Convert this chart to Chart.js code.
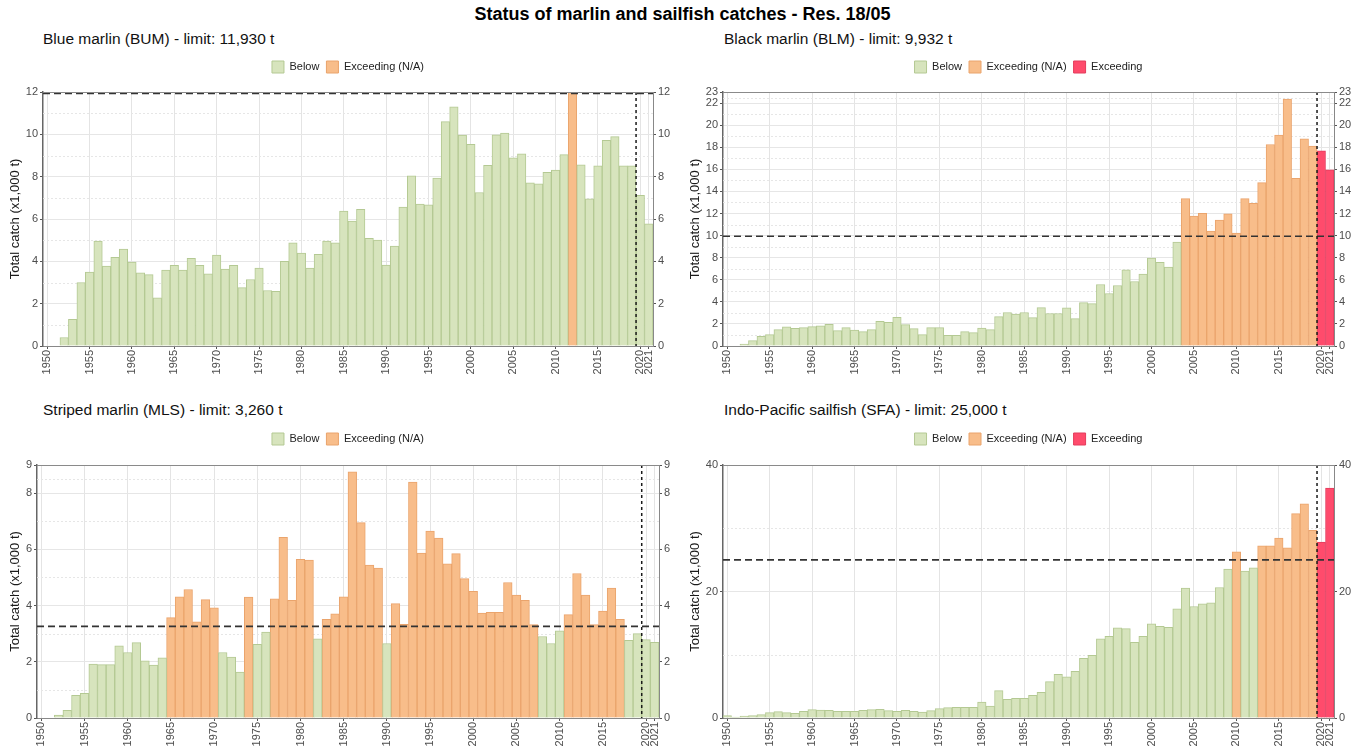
<!DOCTYPE html>
<html><head><meta charset="utf-8">
<script src="https://cdn.jsdelivr.net/npm/chart.js@4.4.0/dist/chart.umd.min.js"></script>
<style>
body{margin:0;width:1365px;height:751px;background:#fff;position:relative;overflow:hidden;font-family:"Liberation Sans",Arial,sans-serif;}
#title{position:absolute;left:0;top:4px;width:1365px;text-align:center;font-weight:bold;font-size:18px;color:#000;}
.sub{position:absolute;font-size:15.5px;color:#111;white-space:nowrap;}
canvas{position:absolute;}
</style></head><body>
<div id="title">Status of marlin and sailfish catches - Res. 18/05</div>
<div class="sub" style="left:43px;top:30px">Blue marlin (BUM) - limit: 11,930 t</div>
<div class="sub" style="left:724px;top:30px">Black marlin (BLM) - limit: 9,932 t</div>
<div class="sub" style="left:43px;top:401px">Striped marlin (MLS) - limit: 3,260 t</div>
<div class="sub" style="left:724px;top:401px">Indo-Pacific sailfish (SFA) - limit: 25,000 t</div>
<canvas id="c1" width="690" height="324" style="left:0;top:54px"></canvas>
<canvas id="c2" width="685" height="324" style="left:680px;top:54px"></canvas>
<canvas id="c3" width="690" height="325" style="left:0;top:426px"></canvas>
<canvas id="c4" width="685" height="325" style="left:680px;top:426px"></canvas>
<script>
const years = [1950,1951,1952,1953,1954,1955,1956,1957,1958,1959,
1960,1961,1962,1963,1964,1965,1966,1967,1968,1969,
1970,1971,1972,1973,1974,1975,1976,1977,1978,1979,
1980,1981,1982,1983,1984,1985,1986,1987,1988,1989,
1990,1991,1992,1993,1994,1995,1996,1997,1998,1999,
2000,2001,2002,2003,2004,2005,2006,2007,2008,2009,
2010,2011,2012,2013,2014,2015,2016,2017,2018,2019,
2020,2021];

const bumCatch = [null,null,0.40,1.26,3.00,3.49,4.96,3.78,4.19,4.58,
3.97,3.46,3.37,2.27,3.59,3.81,3.59,4.14,3.81,3.41,
4.30,3.63,3.81,2.76,3.14,3.68,2.62,2.58,4.00,4.87,
4.39,3.68,4.33,4.96,4.87,6.38,5.90,6.46,5.09,5.00,
3.82,4.72,6.56,8.04,6.71,6.67,7.93,10.60,11.30,9.97,
9.53,7.25,8.53,9.98,10.06,8.89,9.08,7.71,7.66,8.21,
8.31,9.04,12.00,8.56,6.95,8.51,9.72,9.89,8.51,8.51,
7.12,5.77];

const blmCatch = [null,null,0.18,0.48,0.88,1.03,1.48,1.73,1.60,1.66,
1.76,1.82,1.97,1.39,1.66,1.45,1.30,1.48,2.24,2.15,
2.60,1.94,1.57,1.03,1.66,1.66,0.97,0.97,1.30,1.21,
1.63,1.48,2.66,3.03,2.88,3.03,2.57,3.48,2.94,2.94,
3.45,2.48,3.93,3.84,5.57,4.75,5.48,6.90,5.84,6.51,
7.96,7.57,7.14,9.41,13.35,11.77,12.02,10.41,11.41,11.96,
10.23,13.35,12.92,14.80,18.25,19.10,22.37,15.19,18.77,18.10,
17.68,15.95];

const mlsCatch = [null,null,0.10,0.27,0.81,0.88,1.92,1.90,1.90,2.57,
2.33,2.68,2.03,1.88,2.14,3.57,4.31,4.57,3.42,4.21,
3.92,2.33,2.17,1.63,4.30,2.62,3.06,4.24,6.43,4.19,
5.64,5.62,2.82,3.51,3.71,4.31,8.76,6.95,5.44,5.33,
2.65,4.07,3.33,8.39,5.87,6.65,6.40,5.48,5.85,4.96,
4.51,3.73,3.76,3.76,4.82,4.37,4.19,3.32,2.90,2.65,
3.10,3.68,5.14,4.37,3.32,3.80,4.62,3.51,2.76,3.00,
2.79,2.69];

const sfaCatch = [0.37,0.16,0.32,0.37,0.53,0.84,1.00,0.84,0.74,1.06,
1.32,1.27,1.21,1.06,1.06,1.06,1.21,1.32,1.37,1.16,
1.06,1.21,1.06,0.95,1.16,1.48,1.64,1.69,1.69,1.69,
2.53,1.90,4.33,2.96,3.11,3.11,3.59,4.06,5.75,6.91,
6.49,7.39,9.45,9.92,12.50,12.93,14.25,14.14,11.98,12.93,
14.88,14.51,14.35,17.26,20.53,17.63,18.05,18.21,20.63,23.54,
26.28,23.22,23.75,27.23,27.23,28.44,26.91,32.30,33.88,29.66,
27.81,36.36];

const bumLimit = 11.93, blmLimit = 9.932, mlsLimit = 3.26, sfaLimit = 25;

const bumTicks = [0,2,4,6,8,10,12];
const bumMinor = [1,3,5,7,9,11];
const blmTicks = [0,2,4,6,8,10,12,14,16,18,20,22,23];
const blmMinor = [1,3,5,7,9,11,13,15,17,19,21,22.5];
const mlsTicks = [0,2,4,6,8,9];
const mlsMinor = [1,3,5,7,8.5];
const sfaTicks = [0,20,40];
const sfaMinor = [10,30];

const labelledYears = [1950,1955,1960,1965,1970,1975,1980,1985,1990,1995,2000,2005,2010,2015,2020,2021];
const firstEvaluatedYear = 2020;

const FAM = '"Liberation Sans", Arial, sans-serif';
Chart.defaults.font.family = FAM;
Chart.defaults.animation = false;

const STATUS = [
  {key:'below', label:'Below', fill:'#d7e4bd', border:'#b4c993'},
  {key:'na', label:'Exceeding (N/A)', fill:'#f8bd8a', border:'#eaa46c'},
  {key:'ex', label:'Exceeding', fill:'#ff4b6c', border:'#e33d5d'}
];

const legendSpacer = {
  id:'legendSpacer',
  beforeInit(chart, args, opts) {
    const orig = chart.legend.fit;
    chart.legend.fit = function(){ orig.call(this); this.height += opts.extra; };
  }
};

const decor = {
  id:'decor',
  beforeDatasetsDraw(chart, args, o) {
    const {ctx, chartArea:a} = chart; const y = chart.scales.y;
    ctx.save(); ctx.strokeStyle = '#e6e6e6'; ctx.lineWidth = 1; ctx.setLineDash([2,2]);
    o.minor.forEach(v => {
      const py = Math.round(y.getPixelForValue(v)) + 0.5;
      ctx.beginPath(); ctx.moveTo(a.left, py); ctx.lineTo(a.right, py); ctx.stroke();
    });
    ctx.restore();
  },
  afterDatasetsDraw(chart, args, o) {
    const {ctx, chartArea:a} = chart; const y = chart.scales.y, x = chart.scales.x;
    ctx.save();
    const py = y.getPixelForValue(o.limit);
    ctx.strokeStyle = '#333'; ctx.lineWidth = 1.6; ctx.setLineDash([7,4]);
    ctx.beginPath(); ctx.moveTo(a.left, py); ctx.lineTo(a.right, py); ctx.stroke();
    const i = years.indexOf(firstEvaluatedYear);
    const px = (x.getPixelForValue(i - 1) + x.getPixelForValue(i)) / 2;
    ctx.strokeStyle = '#1a1a1a'; ctx.lineWidth = 1.5; ctx.setLineDash([3,3]);
    ctx.beginPath(); ctx.moveTo(px, a.top); ctx.lineTo(px, a.bottom); ctx.stroke();
    ctx.setLineDash([]); ctx.strokeStyle = '#8a8a8a'; ctx.lineWidth = 1;
    ctx.beginPath(); ctx.moveTo(a.left, Math.round(a.top) + 0.5); ctx.lineTo(a.right, Math.round(a.top) + 0.5); ctx.stroke();
    ctx.restore();
  }
};

function isLabelled(i){ return labelledYears.includes(years[i]); }

function makeChart(id, values, limit, ticks, minor, yw, y2w, xh, extra) {
  const statusOf = (v, i) => v == null ? null : (v > limit ? (years[i] >= firstEvaluatedYear ? 'ex' : 'na') : 'below');
  const datasets = STATUS.map(s => ({
    label: s.label,
    data: values.map((v, i) => statusOf(v, i) === s.key ? v : null),
    backgroundColor: s.fill, borderColor: s.border, borderWidth: 1,
    categoryPercentage: 1, barPercentage: 1, yAxisID: 'y'
  })).filter(d => d.data.some(v => v != null));
  const max = ticks[ticks.length - 1];
  const tickFont = {size: 11, family: FAM};
  new Chart(document.getElementById(id), {
    type: 'bar',
    data: {labels: years.map(String), datasets},
    options: {
      responsive: false, animation: false,
      layout: {padding: 0},
      plugins: {
        legend: {position: 'top', align: 'center', fullSize: false,
          labels: {boxWidth: 12, boxHeight: 12, padding: 7, color: '#222', font: {size: 11, family: FAM}}},
        tooltip: {enabled: false},
        legendSpacer: {extra},
        decor: {limit, minor}
      },
      scales: {
        x: {
          type: 'category', stacked: true, offset: true,
          grid: {offset: false, lineWidth: 1,
            color: c => isLabelled(c.index) ? '#e4e4e4' : 'rgba(0,0,0,0)',
            tickColor: c => isLabelled(c.index) ? '#555' : 'rgba(0,0,0,0)',
            tickLength: 3},
          border: {color: '#888', width: 1},
          ticks: {autoSkip: false, maxRotation: 90, minRotation: 90, padding: 1, color: '#4d4d4d', font: tickFont,
            callback: (v, i) => isLabelled(i) ? String(years[i]) : ''},
          afterFit: s => { s.height = xh; }
        },
        y: {
          type: 'linear', position: 'left', stacked: true, min: 0, max,
          afterBuildTicks: s => { s.ticks = ticks.map(v => ({value: v})); },
          grid: {color: '#e6e6e6', tickColor: '#555', tickLength: 3},
          border: {color: '#666', width: 1.5},
          ticks: {autoSkip: false, padding: 2, color: '#4d4d4d', font: tickFont},
          title: {display: true, text: 'Total catch (x1,000 t)', color: '#1a1a1a', font: {size: 13, family: FAM}, padding: {top: 8, bottom: 0}},
          afterFit: s => { s.width = yw; }
        },
        y2: {
          type: 'linear', position: 'right', min: 0, max,
          afterBuildTicks: s => { s.ticks = ticks.map(v => ({value: v})); },
          grid: {drawOnChartArea: false, tickColor: '#555', tickLength: 3},
          border: {color: '#888', width: 1},
          ticks: {autoSkip: false, padding: 2, color: '#4d4d4d', font: tickFont},
          afterFit: s => { s.width = y2w; }
        }
      }
    },
    plugins: [legendSpacer, decor]
  });
}

makeChart('c1', bumCatch, bumLimit, bumTicks, bumMinor, 43, 37, 32, 9);
makeChart('c2', blmCatch, blmLimit, blmTicks, blmMinor, 43, 31, 32, 9);
makeChart('c3', mlsCatch, mlsLimit, mlsTicks, mlsMinor, 37, 31, 33, 10);
makeChart('c4', sfaCatch, sfaLimit, sfaTicks, sfaMinor, 43, 31, 33, 10);
</script>
</body></html>
